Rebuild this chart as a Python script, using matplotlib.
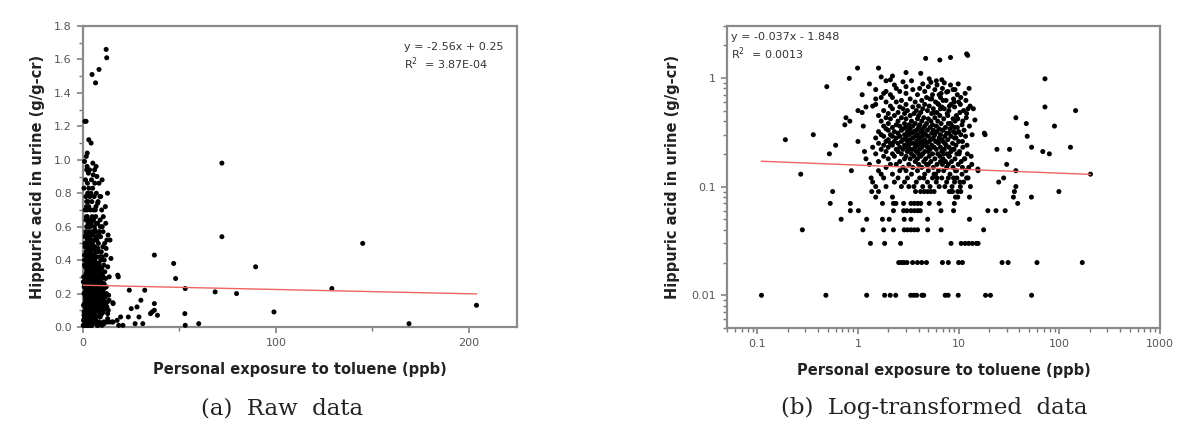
import numpy as np
import matplotlib
matplotlib.use("Agg")
import matplotlib.pyplot as plt
from matplotlib.ticker import FixedLocator, MultipleLocator, LogLocator, NullFormatter, FuncFormatter

# ---------------- data (toluene ppb, hippuric acid g/g-cr) ----------------
# low, quantised values
tol_low = [0.11, 0.48, 1.22, 1.84, 2.09, 2.37, 3.34, 3.58, 3.83, 4.32, 4.5, 7.35, 7.87, 9.9, 18.5, 20.7, 53,
           2.54, 2.7, 2.86, 3.07, 3.49, 3.9, 4.3, 4.79, 6.9, 7.9, 10.0, 10.9, 27, 31, 60, 169,
           1.33, 1.84, 2.65, 8.4, 10.6, 11.6, 12.6, 13.7, 15.0, 15.6,
           0.28, 1.12, 1.8, 2.25, 2.88, 3.1, 3.36, 3.63, 3.91, 4.92, 6.7, 17.7,
           0.68, 1.22, 1.75, 2.04, 2.88, 3.36, 4.92, 12.8,
           0.84, 1.01, 2.25, 2.84, 3.06, 3.36, 3.63, 3.91, 4.16, 6.67, 8.9, 19.5, 23.5, 29,
           0.53, 0.84, 1.75, 2.25, 2.38, 2.84, 3.36, 3.63, 3.91, 4.2, 5.1, 6.4, 9.06, 38.6,
           1.5, 2.2, 9.3, 9.8, 12.8, 35, 52.8,
           0.56, 1.37, 1.6, 3.73, 4.19, 4.56, 4.92, 5.3, 5.7, 8.07, 8.3, 8.7, 9.8, 10.5, 35.8, 99]
ha_low = [0.01] * 17 + [0.02] * 16 + [0.03] * 10 + [0.04] * 12 + [0.05] * 8 + [0.06] * 14 + \
         [0.07] * 14 + [0.08] * 7 + [0.09] * 16

# main cluster
tol_mid = [1.5, 1.9, 2.7, 3.2, 3.6, 4.4, 5.2, 6.4, 7.3, 8.6, 10.4, 13.1,
           1.4, 2.3, 2.9, 3.8, 4.9, 6.0, 9.1, 11.2, 37,
           1.35, 1.8, 2.5, 3.1, 4.1, 5.5, 6.8, 7.9, 9.6, 12.0, 28, 25,
           0.27, 1.7, 2.2, 3.4, 4.6, 5.9, 8.2, 10.8, 204,
           0.86, 1.6, 2.6, 3.0, 3.9, 5.0, 6.3, 7.1, 9.3, 11.8, 15.5, 37,
           1.9, 2.8, 3.5, 4.3, 5.6, 7.6, 8.8, 12.6, 15.6,
           1.3, 2.1, 2.4, 3.2, 4.0, 4.8, 6.1, 6.9, 9.9, 13.5, 30,
           1.6, 2.6, 3.7, 4.5, 5.3, 7.4, 8.5, 10.6,
           1.2, 2.0, 2.9, 3.3, 3.9, 4.7, 5.8, 7.0, 9.2, 11.4,
           1.8, 2.3, 3.0, 3.6, 4.2, 5.1, 6.5, 8.1,
           0.52, 1.5, 2.2, 2.7, 3.4, 4.0, 4.4, 5.5, 6.2, 7.7, 9.6, 12.2, 79.6,
           1.16, 1.9, 2.5, 3.1, 3.8, 4.6, 5.0, 6.8, 8.4, 10.2, 68.5,
           1.7, 2.4, 2.8, 3.3, 3.5, 4.1, 5.2, 6.0, 7.2, 9.0, 24, 32,
           1.4, 2.0, 2.6, 3.0, 3.7, 4.3, 4.9, 5.7, 6.6, 8.0, 11.0, 53, 129,
           0.6, 1.8, 2.2, 2.9, 3.2, 3.9, 4.5, 5.4, 7.5, 9.4,
           1.6, 2.1, 2.5, 3.4, 3.6, 4.2, 4.8, 6.3, 8.7,
           1.0, 1.9, 2.3, 2.7, 3.1, 3.8, 4.4, 5.1, 5.9, 7.0, 10.0,
           0.19, 2.0, 2.8, 3.3, 4.0, 4.6, 5.3, 6.8, 7.8,
           1.5, 2.4, 3.0, 3.5, 4.1, 5.6, 6.4, 9.1,
           1.8, 2.2, 2.6, 3.7, 4.3, 5.0, 7.3, 8.4, 48,
           0.36, 1.7, 2.1, 2.9, 3.2, 3.9, 4.7, 5.8, 6.6, 10.5, 18.3,
           2.5, 3.4, 4.5, 5.4, 7.6, 9.3, 18,
           1.6, 2.3, 3.1, 3.6, 4.2, 6.1, 8.9,
           2.0, 2.7, 3.8, 4.9, 5.6, 7.0, 11.3,
           1.9, 2.8, 3.3, 4.4, 6.4, 8.2,
           2.2, 3.0, 4.0, 5.2, 7.4, 9.7,
           1.13, 1.8, 2.6, 3.5, 4.6, 6.0, 8.6, 89.5,
           0.74, 2.4, 3.2, 4.1, 5.5, 10.8,
           2.0, 2.9, 3.7, 4.8, 6.7, 7.9, 47,
           0.83, 1.7, 2.5, 3.4, 4.3, 5.3, 6.2, 9.2,
           2.1, 3.0, 3.9, 5.0, 7.1, 8.8,
           0.76, 1.9, 2.7, 4.5, 5.8, 11.9, 37,
           1.6, 2.3, 3.3, 4.0, 6.5, 9.5,
           2.0, 2.9, 3.6, 5.4, 7.7,
           1.1, 2.5, 4.2, 6.1, 10.3,
           1.0, 1.8, 3.1, 3.8, 4.9, 8.0, 145,
           2.2, 2.8, 4.4, 5.6, 7.2, 12.4,
           1.2, 2.6, 3.5, 6.8, 9.1, 72,
           1.4, 2.1, 4.0, 5.1, 13.0,
           1.5, 3.0, 4.6, 6.3, 8.4,
           1.9, 2.4, 3.7, 5.9, 10.0,
           2.7, 4.3, 7.5,
           1.5, 3.3, 5.2, 8.9,
           1.7, 2.2, 4.8, 6.6,
           1.1, 2.1, 3.9, 5.5, 9.7,
           1.8, 3.0, 6.7, 11.6,
           1.9, 2.6, 4.6, 7.8,
           1.5, 3.5, 5.8, 9.2,
           2.4, 4.1, 6.9,
           0.49, 3.0, 5.0,
           2.3, 6.1, 8.3,
           1.3, 4.4,
           5.3, 2.8,
           1.9, 3.4, 6.0,
           2.1, 0.82, 1.7, 2.2, 72,
           0.99, 1.6, 6.5, 4.7, 8.3, 12.3, 12.0]
ha_mid = [0.10] * 12 + [0.11] * 8 + [0.10] + [0.12] * 10 + [0.12, 0.11] + [0.13] * 8 + [0.13] + \
         [0.14] * 10 + [0.145, 0.14] + [0.15] * 8 + [0.14] + [0.16] * 10 + [0.16] + [0.17] * 8 + \
         [0.18] * 10 + [0.19] * 8 + [0.20] * 12 + [0.20] + [0.21] * 10 + [0.21] + [0.22] * 10 + [0.22, 0.22] + \
         [0.23] * 11 + [0.23, 0.23] + [0.24] * 10 + [0.25] * 9 + [0.26] * 11 + [0.27] * 9 + [0.28] * 8 + \
         [0.29] * 8 + [0.29] + [0.30] * 10 + [0.30] + [0.31] * 6 + [0.31] + [0.32] * 7 + [0.33] * 7 + \
         [0.34] * 6 + [0.35] * 6 + [0.36] * 7 + [0.36] + [0.37] * 6 + [0.38] * 6 + [0.38] + [0.40] * 8 + \
         [0.42] * 6 + [0.43] * 6 + [0.43] + [0.45] * 6 + [0.47] * 5 + [0.48] * 5 + [0.50] * 6 + [0.50] + \
         [0.52] * 6 + [0.54] * 5 + [0.54] + [0.55] * 5 + [0.57] * 5 + [0.60] * 5 + [0.62] * 3 + [0.64] * 4 + \
         [0.66] * 4 + [0.70] * 5 + [0.72] * 4 + [0.75] * 4 + [0.78] * 4 + [0.80] * 3 + [0.83] * 3 + \
         [0.86] * 3 + [0.88] * 2 + [0.91, 0.92] + [0.94] * 3 + [0.96, 0.99, 1.02, 1.04, 0.98] + \
         [1.23, 1.23, 1.46, 1.51, 1.54, 1.61, 1.66]

# right-hand part of the cluster (about 5-15 ppb)
tol_ext = [6.2, 7.0, 8.1, 9.0, 10.4, 11.2, 12.0, 7.8, 9.8, 11.0, 12.8, 13.6, 6.9, 8.0, 9.4, 10.9,
           12.1, 6.4, 7.3, 8.6, 10.1, 11.5, 13.3, 6.6, 7.9, 9.5, 10.9, 12.4, 6.1, 7.6, 8.9, 10.3,
           5.4, 6.4, 7.6, 8.8, 10.5, 11.8, 9.9, 7.2, 5.1, 6.8, 4.2, 3.0, 12.7, 14.0, 14.5, 5.7,
           6.6, 8.3, 9.1, 10.0, 11.7, 7.1, 8.0, 5.0, 5.7, 4.5]
ha_ext = [0.58, 0.62, 0.55, 0.60, 0.57, 0.50, 0.47, 0.45, 0.42, 0.40, 0.36, 0.30, 0.33, 0.31, 0.28, 0.26,
          0.24, 0.27, 0.25, 0.22, 0.20, 0.18, 0.19, 0.17, 0.16, 0.14, 0.15, 0.12, 0.12, 0.11, 0.12, 0.11,
          0.64, 0.70, 0.74, 0.78, 0.66, 0.62, 0.88, 0.90, 0.98, 0.96, 1.10, 1.12, 0.80, 0.52, 0.41, 0.48,
          0.52, 0.38, 0.35, 0.32, 0.29, 0.20, 0.19, 0.16, 0.13, 0.12]

# fitted lines (from the annotations)
lin_slope, lin_icpt = -2.56e-4, 0.25
log_slope, log_icpt = -0.037, -1.848
eq_raw = ["y = -2.56x + 0.25", "R$^2$  = 3.87E-04"]
eq_log = ["y = -0.037x - 1.848", "R$^2$  = 0.0013"]
xlabel = "Personal exposure to toluene (ppb)"
ylabel = "Hippuric acid in urine (g/g-cr)"
captions = ["(a)  Raw  data", "(b)  Log-transformed  data"]

tol = np.array(tol_low + tol_mid + tol_ext, dtype=float)
ha = np.array(ha_low + ha_mid + ha_ext, dtype=float)
assert len(tol) == len(ha)

# ---------------- figure ----------------
plt.rcParams['font.family'] = ['DejaVu Sans']
fig = plt.figure(figsize=(11.84, 4.38), dpi=100)
W, H = 1184, 438
def rect(l, r, t, b):
    return [l / W, 1 - b / H, (r - l) / W, (b - t) / H]

ax1 = fig.add_axes(rect(83, 517, 26, 327))
ax2 = fig.add_axes(rect(727, 1160, 26, 328))

spine_c = '#8a8a8a'
tick_c = '#555555'
lab_c = '#222222'

for ax in (ax1, ax2):
    for s in ax.spines.values():
        s.set_color(spine_c)
        s.set_linewidth(1.6)
    ax.tick_params(which='both', direction='out', colors='#777777', labelcolor=tick_c,
                   labelsize=8, top=False, right=False)
    ax.tick_params(which='major', length=4.5, width=1.1)
    ax.tick_params(which='minor', length=2.8, width=1.0)
    ax.scatter(tol, ha, s=13, color='black', edgecolors='none', zorder=3, clip_on=False)
    ax.set_xlabel(xlabel, fontsize=10.5, fontweight='bold', color=lab_c)
    ax.set_ylabel(ylabel, fontsize=10.5, fontweight='bold', color=lab_c)

# panel a
xl = np.array([0, tol.max()])
ax1.plot(xl, lin_icpt + lin_slope * xl, color='#ee6460', lw=1.0, zorder=4)
ax1.set_xlim(0, 225)
ax1.set_ylim(0, 1.8)
ax1.xaxis.set_major_locator(FixedLocator([0, 100, 200]))
ax1.xaxis.set_minor_locator(MultipleLocator(50))
ax1.yaxis.set_major_locator(MultipleLocator(0.2))
ax1.yaxis.set_minor_locator(MultipleLocator(0.1))
ax1.yaxis.set_major_formatter(FuncFormatter(lambda v, p: f"{v:.1f}"))
ax1.xaxis.set_label_coords(0.5, -0.115)
ax1.yaxis.set_label_coords(-0.088, 0.5)

# panel b
xg = np.geomspace(tol.min(), tol.max(), 50)
ax2.plot(xg, np.exp(log_icpt) * xg ** log_slope, color='#ee6460', lw=1.0, zorder=4)
ax2.set_xscale('log')
ax2.set_yscale('log')
ax2.set_xlim(0.05, 1000)
ax2.set_ylim(0.005, 3)
ax2.xaxis.set_major_locator(FixedLocator([0.1, 1, 10, 100, 1000]))
ax2.xaxis.set_major_formatter(FuncFormatter(lambda v, p: f"{v:g}"))
ax2.xaxis.set_minor_locator(LogLocator(base=10, subs=np.arange(2, 10), numticks=20))
ax2.xaxis.set_minor_formatter(NullFormatter())
ax2.yaxis.set_major_locator(FixedLocator([0.01, 0.1, 1]))
ax2.yaxis.set_major_formatter(FuncFormatter(lambda v, p: f"{v:g}"))
ax2.yaxis.set_minor_locator(LogLocator(base=10, subs=np.arange(2, 10), numticks=20))
ax2.yaxis.set_minor_formatter(NullFormatter())
ax2.xaxis.set_label_coords(0.5, -0.115)
ax2.yaxis.set_label_coords(-0.108, 0.5)

# equation annotations (pixel positions in figure)
def ftext(x, y, s):
    fig.text(x / W, 1 - y / H, s, fontsize=8, color='#333333', va='center', ha='left')

ftext(404, 47, eq_raw[0])
ftext(404, 64, eq_raw[1])
ftext(731, 37, eq_log[0])
ftext(731, 54, eq_log[1])

# captions
fig.text(282 / W, 1 - 408 / H, captions[0], fontsize=16.5, family='DejaVu Serif',
         color='#222222', ha='center', va='center')
fig.text(934 / W, 1 - 408 / H, captions[1], fontsize=16.5, family='DejaVu Serif',
         color='#222222', ha='center', va='center')

fig.savefig('out.png', dpi=100)
